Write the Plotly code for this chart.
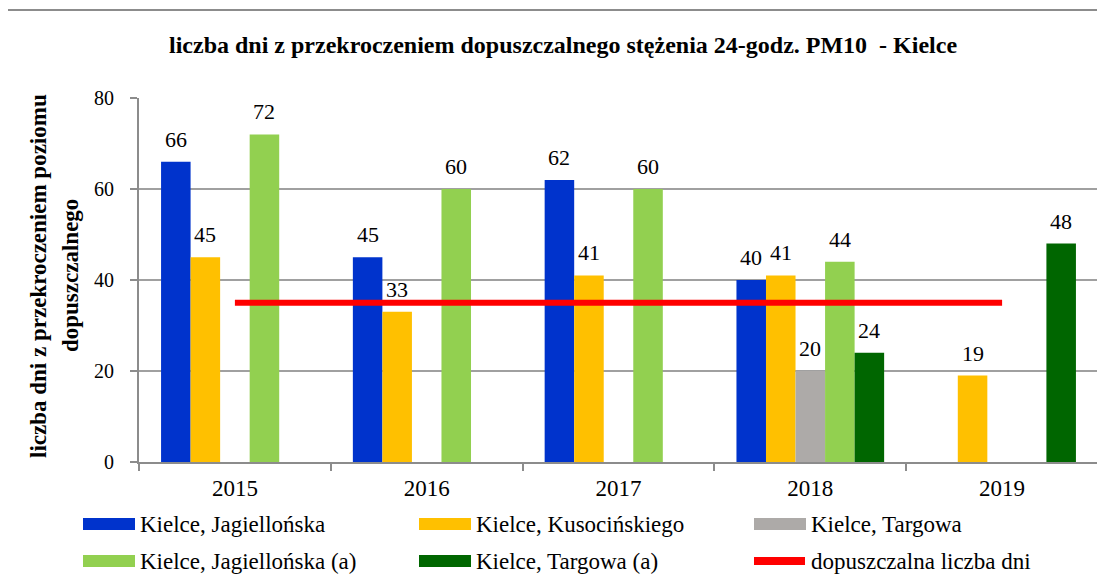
import plotly.graph_objects as go

years = ["2015", "2016", "2017", "2018", "2019"]
series_names = ["Kielce, Jagiellońska", "Kielce, Kusocińskiego", "Kielce, Targowa",
                "Kielce, Jagiellońska (a)", "Kielce, Targowa (a)"]
jagiellonska = [66, 45, 62, 40, None]
kusocinskiego = [45, 33, 41, 41, 19]
targowa = [None, None, None, 20, None]
jagiellonska_a = [72, 60, 60, 44, None]
targowa_a = [None, None, None, 24, 48]
limit_name = "dopuszczalna liczba dni"
limit_values = [35, 35, 35, 35, 35]
title_text = "liczba dni z przekroczeniem dopuszczalnego stężenia 24-godz. PM10\u00a0\u00a0- Kielce"
ytitle_lines = ["liczba dni z przekroczeniem poziomu", "dopuszczalnego"]

colors = ["#0033CC", "#FFC000", "#ADAAA8", "#92D050", "#006600"]
series_values = [jagiellonska, kusocinskiego, targowa, jagiellonska_a, targowa_a]

# page has an 8px body margin; figure is shrunk and shifted accordingly
OFF = 8
W, H = 1105 - OFF, 576 - OFF
# plot area in reference-page pixels
PL, PR, PT, PB = 139, 1098, 98, 462
L, R, T, B = PL - OFF, W - (PR - OFF), PT - OFF, H - (PB - OFF)
pw, ph = W - L - R, H - T - B
FONT = "Liberation Serif"

def px(x):
    return (x - PL) / (PR - PL)

def py(y):
    return (PB - y) / (PB - PT)

fig = go.Figure()
for name, vals, c in zip(series_names, series_values, colors):
    fig.add_trace(go.Bar(x=years, y=vals, name=name, marker=dict(color=c, line=dict(width=0)),
                         showlegend=False))
fig.add_trace(go.Scatter(x=years, y=limit_values, mode="lines", name=limit_name,
                         line=dict(color="#FF0000", width=6), showlegend=False))

bargap = 0.23
bar_px = pw / len(years) * (1 - bargap) / len(series_names)
annotations = []
for k, vals in enumerate(series_values):
    for i, v in enumerate(vals):
        if v is None:
            continue
        annotations.append(dict(x=i, y=v, xref="x", yref="y", text=str(v), showarrow=False,
                                xshift=(k - 2) * bar_px, yanchor="bottom", yshift=8,
                                font=dict(family=FONT, size=22, color="#000")))

annotations.append(dict(x=px(563), y=py(45), xref="paper", yref="paper", text="<b>" + title_text + "</b>",
                        showarrow=False, font=dict(family=FONT, size=24, color="#000"),
                        xanchor="center", yanchor="middle"))
for xc, line in zip([38, 70], ytitle_lines):
    annotations.append(dict(x=px(xc), y=py(276), xref="paper", yref="paper", text="<b>" + line + "</b>",
                            showarrow=False, textangle=-90, font=dict(family=FONT, size=23, color="#000"),
                            xanchor="center", yanchor="middle"))

shapes = [dict(type="rect", xref="paper", yref="paper", x0=px(7), x1=px(1120), y0=py(10), y1=py(600),
               line=dict(color="#8C8C8C", width=2), fillcolor="rgba(0,0,0,0)", layer="below")]

legend_items = [(series_names[0], colors[0], "bar"), (series_names[1], colors[1], "bar"),
                (series_names[2], colors[2], "bar"), (series_names[3], colors[3], "bar"),
                (series_names[4], colors[4], "bar"), (limit_name, "#FF0000", "line")]
col_x = [83, 419, 754]
row_y = [524, 561]
for i, (name, c, kind) in enumerate(legend_items):
    x0 = col_x[i % 3]
    yc = row_y[i // 3]
    if kind == "bar":
        shapes.append(dict(type="rect", xref="paper", yref="paper", x0=px(x0), x1=px(x0 + 52),
                           y0=py(yc - 6), y1=py(yc + 6), fillcolor=c, line=dict(width=0)))
    else:
        shapes.append(dict(type="line", xref="paper", yref="paper", x0=px(x0), x1=px(x0 + 51),
                           y0=py(yc), y1=py(yc), line=dict(color=c, width=8)))
    annotations.append(dict(x=px(x0 + 55), y=py(yc), xref="paper", yref="paper", text=name,
                            showarrow=False, xanchor="left", yanchor="middle",
                            font=dict(family=FONT, size=23, color="#000")))

fig.update_layout(
    width=W, height=H,
    margin=dict(l=L, r=R, t=T, b=B, pad=0),
    paper_bgcolor="white", plot_bgcolor="white",
    barmode="group", bargap=bargap, bargroupgap=0,
    showlegend=False,
    font=dict(family=FONT, size=20, color="#000"),
    annotations=annotations, shapes=shapes,
    xaxis=dict(type="category", range=[-0.5, 4.5], showline=True, linecolor="#8C8C8C", linewidth=2,
               ticks="outside", tickson="boundaries", ticklen=7, tickcolor="#8C8C8C", tickwidth=2,
               ticklabelstandoff=4,
               tickfont=dict(family=FONT, size=23, color="#000"), showgrid=False),
    yaxis=dict(range=[0, 80], dtick=20, showline=True, linecolor="#8C8C8C", linewidth=2,
               ticks="outside", ticklen=7, tickcolor="#8C8C8C", tickwidth=2,
               ticklabelstandoff=12,
               gridcolor="#A0A0A0", gridwidth=2, zeroline=False,
               tickfont=dict(family=FONT, size=20, color="#000")),
)
fig.write_html("out.html")
